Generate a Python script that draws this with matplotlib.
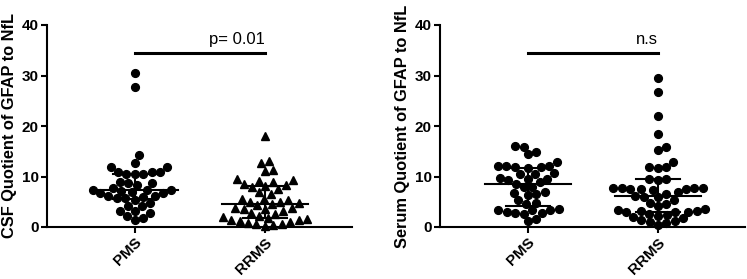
import numpy as np
import matplotlib
matplotlib.use("Agg")
import matplotlib.pyplot as plt

plt.rcParams["font.family"] = ["Liberation Sans", "DejaVu Sans"]

groups = ["PMS", "RRMS"]

csf_pms = [30.4, 27.8, 14.2, 12.7, 11.9, 11.8, 10.9, 10.9, 10.9, 10.5, 10.5, 10.4,
           9.0, 8.8, 8.8, 8.4, 7.7, 7.4, 7.4, 7.4, 7.2, 7.0, 6.7, 6.7, 6.1, 6.1,
           5.9, 5.7, 5.7, 5.4, 4.7, 4.2, 4.1, 3.1, 3.1, 2.8, 2.1, 1.7, 1.4]
csf_rrms = [18.0, 13.1, 12.6, 11.3, 11.1, 9.5, 9.3, 9.2, 9.0, 8.5, 8.3, 8.1, 7.9,
            7.6, 6.9, 6.6, 5.6, 5.5, 5.3, 5.0, 4.9, 4.7, 4.6, 4.3, 3.8, 3.7, 3.6,
            3.5, 3.2, 2.8, 2.6, 2.2, 1.9, 1.8, 1.6, 1.4, 1.3, 1.2, 1.0, 0.8, 0.6,
            0.5, 0.3, 0.2]
serum_pms = [16.0, 15.9, 14.8, 14.4, 12.8, 12.1, 12.0, 12.0, 11.8, 11.8, 11.7,
             10.7, 10.5, 10.5, 9.7, 9.6, 9.6, 9.4, 8.9, 8.6, 8.0, 7.9, 6.9, 6.8,
             6.5, 6.4, 5.3, 4.8, 4.6, 3.6, 3.4, 3.3, 3.3, 3.0, 2.8, 2.8, 2.6, 1.6, 1.1]
serum_rrms = [29.6, 26.8, 22.0, 18.4, 15.8, 15.2, 12.9, 11.8, 11.7, 11.8, 9.6, 9.5,
              9.4, 7.8, 7.7, 7.6, 7.6, 7.5, 7.3, 7.7, 7.8, 6.9, 6.6, 6.2, 6.0, 5.9,
              5.4, 4.8, 4.6, 4.1, 3.6, 3.3, 3.2, 3.1, 3.0, 3.0, 2.9, 2.6, 2.4, 2.2,
              2.0, 1.7, 1.4, 1.2, 0.9, 0.7, 0.4]

panels = [
    ("CSF Quotient of GFAP to NfL", csf_pms, csf_rrms, ["o", "^"], "p= 0.01"),
    ("Serum Quotient of GFAP to NfL", serum_pms, serum_rrms, ["o", "o"], "n.s"),
]


def swarm_x(ax, xc, vals, diam):
    # simple beeswarm in pixel space
    pts = ax.transData.transform(np.column_stack([np.full(len(vals), xc), vals]))
    x0, ys = pts[0, 0], pts[:, 1]
    xs = np.zeros(len(vals))
    placed = []
    for i in np.argsort(ys):
        y = ys[i]
        cands = [0.0]
        for px, py in placed:
            dy = y - py
            if abs(dy) < diam:
                dx = np.sqrt(diam ** 2 - dy ** 2)
                cands += [px + dx, px - dx]
        cands.sort(key=abs)
        for c in cands:
            if all((c - px) ** 2 + (y - py) ** 2 >= diam ** 2 - 1e-6 for px, py in placed):
                xs[i] = c
                placed.append((c, y))
                break
    back = ax.transData.inverted().transform(np.column_stack([x0 + xs, ys]))
    return back[:, 0]


fig = plt.figure(figsize=(7.47, 2.79), dpi=100)
lefts = [47 / 747, 440 / 747]

for k, (ylabel, a, b, markers, sig) in enumerate(panels):
    ax = fig.add_axes([lefts[k], 52 / 279, 305 / 747, 202 / 279])
    ax.set_xlim(-0.675, 1.67)
    ax.set_ylim(0, 40)
    for j, vals in enumerate([a, b]):
        vals = np.array(vals)
        xs = swarm_x(ax, j, vals, 8.6)
        ax.plot(xs, vals, markers[j], color="black", ms=5.6 if markers[j] == "o" else 6.2,
                mec="black", clip_on=False, zorder=3)
        q1, med, q3 = np.percentile(vals, [25, 50, 75])
        ax.plot([j - 0.33, j + 0.33], [med, med], color="black", lw=1.5, zorder=4)
        ax.plot([j - 0.17, j + 0.17], [q1, q1], color="black", lw=1.5, zorder=4)
        ax.plot([j - 0.17, j + 0.17], [q3, q3], color="black", lw=1.5, zorder=4)
        ax.plot([j, j], [q1, q3], color="black", lw=1.5, zorder=4)

    ax.plot([0, 1], [34.5, 34.5], color="black", lw=2.2, clip_on=False)
    ax.text(1.0, 35.6, sig, ha="right", va="bottom", fontsize=12)

    for s in ["top", "right"]:
        ax.spines[s].set_visible(False)
    for s in ["left", "bottom"]:
        ax.spines[s].set_linewidth(1.5)
    ax.set_yticks([0, 10, 20, 30, 40])
    ax.set_xticks([0, 1])
    ax.set_xticklabels(groups, rotation=45, ha="right", rotation_mode="anchor",
                       fontweight="bold", fontsize=11)
    for t in ax.get_yticklabels():
        t.set_fontweight("bold")
        t.set_fontsize(11)
    ax.tick_params(width=1.5, length=4, direction="out", pad=2)
    ax.set_ylabel(ylabel, fontweight="bold", fontsize=11.8, labelpad=3)

fig.savefig("out.png", dpi=100)
